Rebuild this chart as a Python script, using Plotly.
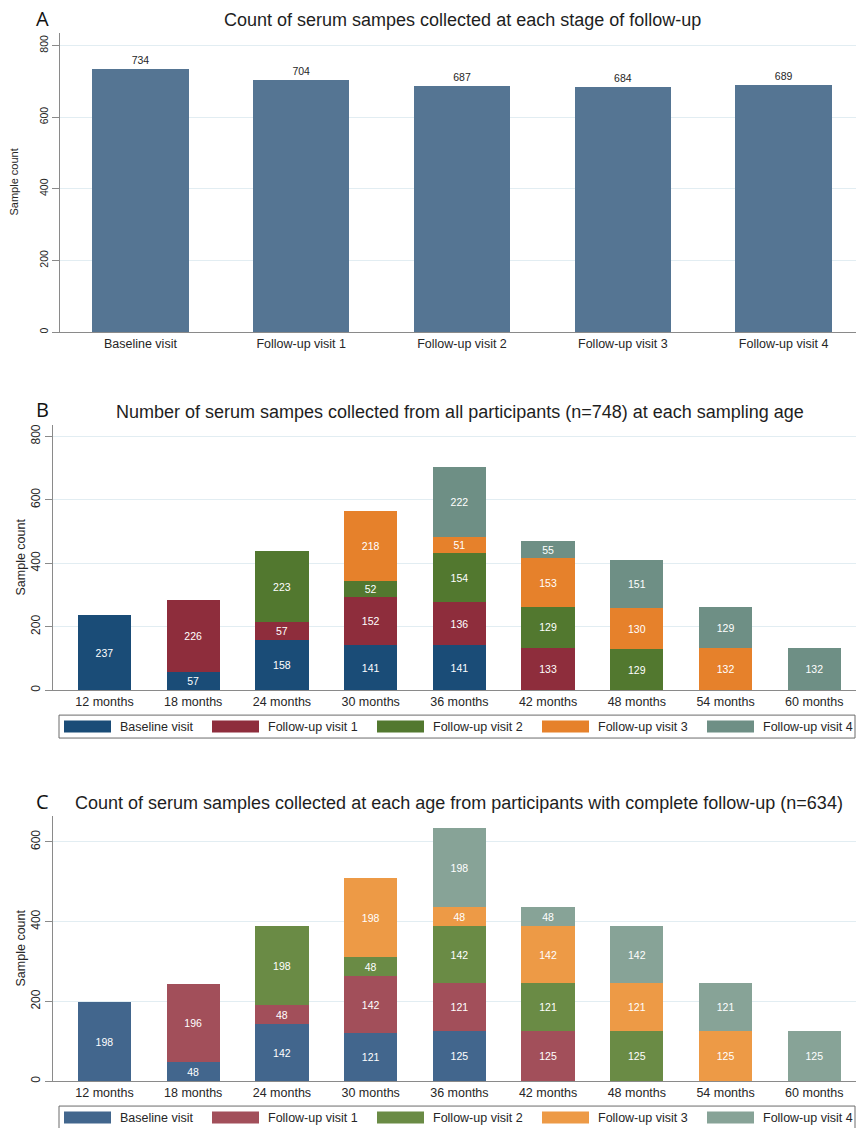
import plotly.graph_objects as go

# ---- data -----------------------------------------------------------------
STAGES = ["Baseline visit", "Follow-up visit 1", "Follow-up visit 2",
          "Follow-up visit 3", "Follow-up visit 4"]
STAGE_COUNTS = [734, 704, 687, 684, 689]

AGES = ["12 months", "18 months", "24 months", "30 months", "36 months",
        "42 months", "48 months", "54 months", "60 months"]

# all participants (n=748), samples per visit at each age
ALL_BASELINE = [237, 57, 158, 141, 141, None, None, None, None]
ALL_FU1 = [None, 226, 57, 152, 136, 133, None, None, None]
ALL_FU2 = [None, None, 223, 52, 154, 129, 129, None, None]
ALL_FU3 = [None, None, None, 218, 51, 153, 130, 132, None]
ALL_FU4 = [None, None, None, None, 222, 55, 151, 129, 132]

# participants with complete follow-up (n=634)
COMPLETE_BASELINE = [198, 48, 142, 121, 125, None, None, None, None]
COMPLETE_FU1 = [None, 196, 48, 142, 121, 125, None, None, None]
COMPLETE_FU2 = [None, None, 198, 48, 142, 121, 125, None, None]
COMPLETE_FU3 = [None, None, None, 198, 48, 142, 121, 125, None]
COMPLETE_FU4 = [None, None, None, None, 198, 48, 142, 121, 125]

Y_TICKS_AB = [0, 200, 400, 600, 800]
Y_TICKS_C = [0, 200, 400, 600]

# ---- styling --------------------------------------------------------------
W, H = 856, 1128
FONT = "Liberation Sans, Arial, sans-serif"
A_COLOR = "#557593"
B_COLORS = ["#1a4c77", "#8e2d3c", "#52782f", "#e6812b", "#6e8f85"]
C_COLORS = ["#42668d", "#a24f5a", "#6a8b45", "#ed9a46", "#87a397"]
GRID = "#e2edf2"
AXIS = "#8a8a8a"
TXT = "#262626"


def xdom(left, right):
    return [left / W, right / W]


def ydom(top, bottom):
    return [1 - bottom / H, 1 - top / H]


def px_x(x):
    return x / W


def px_y(y):
    return 1 - y / H


fig = go.Figure()

# Panel A: samples per follow-up stage
fig.add_trace(go.Bar(
    x=STAGES, y=STAGE_COUNTS, marker=dict(color=A_COLOR, line=dict(width=0)),
    text=STAGE_COUNTS, texttemplate="%{y}", textposition="outside",
    textfont=dict(family=FONT, size=11, color=TXT), cliponaxis=False,
    xaxis="x", yaxis="y", showlegend=False, hoverinfo="x+y",
))

# Panels B and C: stacked samples per sampling age
panel_series = [
    ("x2", "y2", B_COLORS, [ALL_BASELINE, ALL_FU1, ALL_FU2, ALL_FU3, ALL_FU4]),
    ("x3", "y3", C_COLORS, [COMPLETE_BASELINE, COMPLETE_FU1, COMPLETE_FU2,
                            COMPLETE_FU3, COMPLETE_FU4]),
]
for xa, ya, colors, series in panel_series:
    for name, color, vals in zip(STAGES, colors, series):
        fig.add_trace(go.Bar(
            x=AGES, y=vals, name=name,
            marker=dict(color=color, line=dict(width=0)),
            texttemplate="%{y}", textposition="inside",
            insidetextanchor="middle", textangle=0,
            textfont=dict(family=FONT, size=10.5, color="white"),
            xaxis=xa, yaxis=ya, showlegend=False,
        ))

common_x = dict(
    type="category", showline=True, linecolor=AXIS, linewidth=1,
    ticks="", showgrid=False, zeroline=False, fixedrange=True,
)
common_y = dict(
    showline=True, linecolor=AXIS, linewidth=1, ticks="outside", ticklen=7,
    tickcolor=AXIS, tickangle=-90, showgrid=True, gridcolor=GRID,
    gridwidth=1, zeroline=False, fixedrange=True,
)

fig.update_layout(
    width=W, height=H, margin=dict(l=0, r=0, t=0, b=0),
    paper_bgcolor="white", plot_bgcolor="white",
    barmode="stack", bargap=0.4, showlegend=False,
    uniformtext=dict(minsize=10.5, mode="show"),
    font=dict(family=FONT, color=TXT),
    xaxis=dict(common_x, domain=xdom(60, 856), range=[-0.5, 4.45],
               anchor="y", tickfont=dict(size=12.5, color=TXT)),
    yaxis=dict(common_y, domain=ydom(32, 332), range=[0, 835],
               anchor="x", tickvals=Y_TICKS_AB,
               tickfont=dict(size=10.5, color=TXT)),
    xaxis2=dict(common_x, domain=xdom(53, 856), range=[-0.58, 8.47],
                anchor="y2", tickfont=dict(size=12.5, color=TXT)),
    yaxis2=dict(common_y, domain=ydom(425, 691), range=[0, 836],
                anchor="x2", tickvals=Y_TICKS_AB,
                tickfont=dict(size=12, color=TXT)),
    xaxis3=dict(common_x, domain=xdom(53, 856), range=[-0.58, 8.47],
                anchor="y3", tickfont=dict(size=12.5, color=TXT)),
    yaxis3=dict(common_y, domain=ydom(817, 1083), range=[0, 665],
                anchor="x3", tickvals=Y_TICKS_C,
                tickfont=dict(size=12, color=TXT)),
)

annotations = []
shapes = []

# panel letters and titles
titles = [
    ("A", 18, 462, 19, "Count of serum sampes collected at each stage of follow-up"),
    ("B", 410, 460, 412, "Number of serum sampes collected from all participants "
                         "(n=748) at each sampling age"),
    ("C", 803, 459, 804, "Count of serum samples collected at each age from "
                         "participants with complete follow-up (n=634)"),
]
for letter, ly, tx, ty, text in titles:
    annotations.append(dict(
        text=letter, x=px_x(42), y=px_y(ly), xref="paper", yref="paper",
        showarrow=False, xanchor="center", yanchor="middle",
        font=dict(family="Open Sans, sans-serif", size=20, color="#111111"),
    ))
    annotations.append(dict(
        text=text, x=px_x(tx), y=px_y(ty), xref="paper", yref="paper",
        showarrow=False, xanchor="center", yanchor="middle",
        font=dict(family=FONT, size=18, color="#1e1e1e"),
    ))

# y-axis titles
for ax_x, ax_y, size in [(14, 182, 11), (21, 558, 12.5), (21, 950, 12.5)]:
    annotations.append(dict(
        text="Sample count", x=px_x(ax_x), y=px_y(ax_y), xref="paper",
        yref="paper", showarrow=False, textangle=-90, xanchor="center",
        yanchor="middle", font=dict(family=FONT, size=size, color=TXT),
    ))

# legends under panels B and C
legend_item_x = [64, 212, 377, 542, 707]
for box_top, colors in [(716, B_COLORS), (1108, C_COLORS)]:
    shapes.append(dict(
        type="rect", xref="paper", yref="paper",
        x0=px_x(59), x1=px_x(855), y0=px_y(box_top + 23), y1=px_y(box_top),
        line=dict(color="#6b6b6b", width=1), fillcolor="rgba(0,0,0,0)",
    ))
    mid = box_top + 11.5
    for name, color, sx in zip(STAGES, colors, legend_item_x):
        shapes.append(dict(
            type="rect", xref="paper", yref="paper",
            x0=px_x(sx), x1=px_x(sx + 47), y0=px_y(mid + 6), y1=px_y(mid - 6),
            line=dict(width=0), fillcolor=color,
        ))
        annotations.append(dict(
            text=name, x=px_x(sx + 54), y=px_y(mid), xref="paper",
            yref="paper", showarrow=False, xanchor="left", yanchor="middle",
            font=dict(family=FONT, size=12.5, color=TXT),
        ))

fig.update_layout(annotations=annotations, shapes=shapes)

fig.write_html("out.html")
